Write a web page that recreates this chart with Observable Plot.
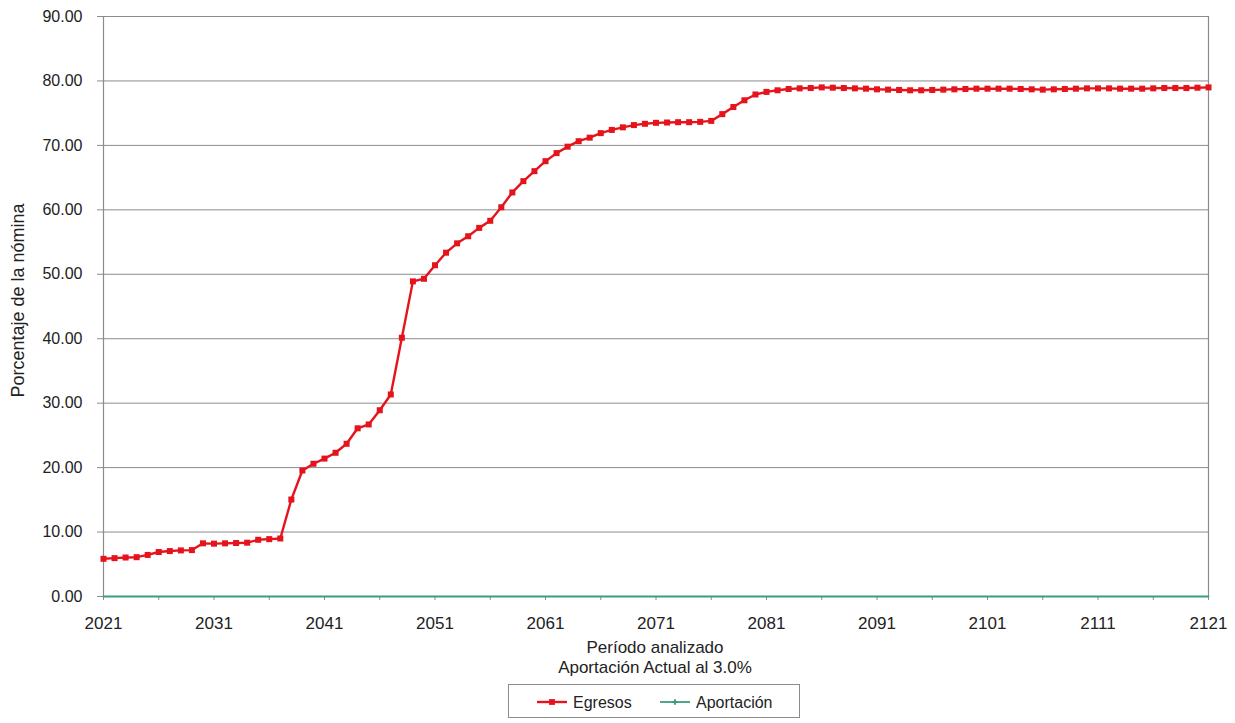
<!DOCTYPE html>
<html>
<head>
<meta charset="utf-8">
<script src="https://cdn.jsdelivr.net/npm/d3@7"></script>
<script src="https://cdn.jsdelivr.net/npm/@observablehq/plot@0.6"></script>
<style>
  html, body { margin: 0; padding: 0; background: #fff; }
  body { width: 1235px; height: 723px; position: relative; overflow: hidden;
         font-family: "Liberation Sans", Arial, sans-serif; color: #222; }
  #chart { position: absolute; left: 0; top: 0; }
  .cap { position: absolute; left: 0; width: 1310px; text-align: center; font-size: 17px; line-height: 20px; color: #222; }
  #legend { position: absolute; left: 508px; top: 684px; width: 290px; height: 32px;
            border: 1px solid #8c8c8c; box-sizing: content-box; }
  #legend svg { position: absolute; left: 0; top: 0; }
</style>
</head>
<body>
<div id="chart"></div>
<div class="cap" style="top:638px">Período analizado</div>
<div class="cap" style="top:658px">Aportación Actual al 3.0%</div>
<div id="legend"></div>
<script>
const startYear = 2021;
const endYear = 2121;

const egresos = [
  5.85, 5.95, 6.05, 6.10, 6.45, 6.90, 7.05, 7.15, 7.20, 8.25,
  8.20, 8.25, 8.30, 8.35, 8.80, 8.90, 9.00, 15.05, 19.55, 20.60,
  21.40, 22.30, 23.70, 26.10, 26.70, 28.90, 31.35, 40.15, 48.90, 49.30,
  51.40, 53.35, 54.80, 55.90, 57.20, 58.30, 60.40, 62.70, 64.45, 66.00,
  67.55, 68.80, 69.80, 70.65, 71.20, 71.90, 72.40, 72.80, 73.15, 73.35,
  73.50, 73.55, 73.60, 73.60, 73.65, 73.80, 74.85, 75.95, 77.00, 77.90,
  78.30, 78.55, 78.75, 78.85, 78.90, 79.00, 78.95, 78.90, 78.85, 78.80,
  78.70, 78.65, 78.60, 78.55, 78.55, 78.60, 78.65, 78.70, 78.75, 78.80,
  78.80, 78.80, 78.80, 78.75, 78.70, 78.65, 78.70, 78.75, 78.80, 78.85,
  78.85, 78.85, 78.80, 78.80, 78.80, 78.85, 78.90, 78.90, 78.90, 78.95,
  79.00
];

const aportacion = [
  0, 0, 0, 0, 0, 0, 0, 0, 0, 0,
  0, 0, 0, 0, 0, 0, 0, 0, 0, 0,
  0, 0, 0, 0, 0, 0, 0, 0, 0, 0,
  0, 0, 0, 0, 0, 0, 0, 0, 0, 0,
  0, 0, 0, 0, 0, 0, 0, 0, 0, 0,
  0, 0, 0, 0, 0, 0, 0, 0, 0, 0,
  0, 0, 0, 0, 0, 0, 0, 0, 0, 0,
  0, 0, 0, 0, 0, 0, 0, 0, 0, 0,
  0, 0, 0, 0, 0, 0, 0, 0, 0, 0,
  0, 0, 0, 0, 0, 0, 0, 0, 0, 0,
  0
];

const yTicks = [0, 10, 20, 30, 40, 50, 60, 70, 80, 90];
const xLabelTicks = [2021, 2031, 2041, 2051, 2061, 2071, 2081, 2091, 2101, 2111, 2121];
const xMinorTicks = d3.range(startYear, endYear + 1, 5);

const years = d3.range(startYear, endYear + 1);
const egData = years.map((y, i) => ({year: y, value: egresos[i]}));
const apData = years.map((y, i) => ({year: y, value: aportacion[i]}));

const RED = "#e5141c";
const GREEN = "#3a9f78";
const GRID = "#8c8c8c";

const chart = Plot.plot({
  width: 1235,
  height: 636,
  marginLeft: 103,
  marginRight: 27,
  marginTop: 16,
  marginBottom: 40,
  style: {fontFamily: '"Liberation Sans", Arial, sans-serif', color: "#222", background: "#fff"},
  x: {domain: [startYear, endYear], label: null},
  y: {domain: [0, 90], label: null},
  marks: [
    Plot.ruleY(yTicks.filter(d => d > 0), {stroke: GRID, strokeWidth: 1}),
    Plot.ruleX([startYear, endYear], {stroke: GRID, strokeWidth: 1.2}),
    Plot.ruleY([0], {stroke: GRID, strokeWidth: 1.2}),
    Plot.axisY({ticks: yTicks, tickFormat: d => d.toFixed(2), tickSize: 6, tickPadding: 15,
                fontSize: 16, stroke: GRID, fill: "#222", label: null}),
    Plot.axisX({ticks: xMinorTicks, tickSize: 4, tickPadding: 16, fontSize: 17,
                tickFormat: d => xLabelTicks.includes(d) ? String(d) : "",
                stroke: GRID, fill: "#222", label: null}),
    Plot.text(["Porcentaje de la nómina"], {frameAnchor: "left", textAnchor: "middle", dx: -85, dy: -6,
                rotate: -90, fontSize: 18, fill: "#222"}),
    Plot.line(apData, {x: "year", y: "value", stroke: GREEN, strokeWidth: 1.8}),
    Plot.dot(apData, {x: "year", y: "value", symbol: "plus", r: 3, fill: GREEN, stroke: "none"}),
    Plot.line(egData, {x: "year", y: "value", stroke: RED, strokeWidth: 2.4}),
    Plot.dot(egData, {x: "year", y: "value", symbol: "square", r: 3.4, fill: RED, stroke: "none"})
  ]
});
document.getElementById("chart").appendChild(chart);

// legend
const lg = d3.select("#legend").append("svg").attr("width", 290).attr("height", 32);
const items = [
  {name: "Egresos", color: RED, symbol: d3.symbolSquare, size: 34, x0: 28},
  {name: "Aportación", color: GREEN, symbol: d3.symbolCross, size: 18, x0: 151}
];
items.forEach(it => {
  lg.append("line").attr("x1", it.x0).attr("x2", it.x0 + 30).attr("y1", 17).attr("y2", 17)
    .attr("stroke", it.color).attr("stroke-width", it.name === "Egresos" ? 2.4 : 1.8);
  lg.append("path").attr("d", d3.symbol(it.symbol, it.size)())
    .attr("transform", `translate(${it.x0 + 15},17)`).attr("fill", it.color);
  lg.append("text").attr("x", it.x0 + 36).attr("y", 17).attr("dy", "0.35em")
    .attr("font-size", 16).attr("fill", "#222")
    .attr("font-family", '"Liberation Sans", Arial, sans-serif').text(it.name);
});
</script>
</body>
</html>
